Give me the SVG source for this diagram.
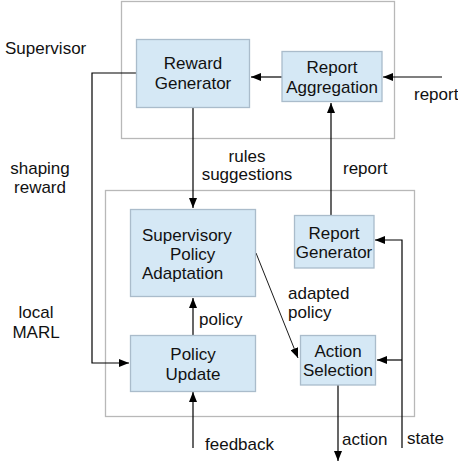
<svg xmlns="http://www.w3.org/2000/svg" width="458" height="466" viewBox="0 0 458 466">
<defs>
<marker id="ah" viewBox="0 0 10 8" refX="10" refY="4" markerWidth="10" markerHeight="8" markerUnits="userSpaceOnUse" orient="auto">
<path d="M0,0 L10,4 L0,8 Z" fill="#000"/>
</marker>
<style>
.cont{fill:#fff;stroke:#b8b8b8;stroke-width:1.3}
.box{fill:#d5e8f5;stroke:#aabccb;stroke-width:1.3}
.t{font-family:"Liberation Sans",Arial,sans-serif;font-size:17px;fill:#111}
.c{text-anchor:middle}
.ln{fill:none;stroke:#000;stroke-width:1.2}
</style>
</defs>
<rect width="458" height="466" fill="#fff"/>
<g id="supervisor-container"><rect class="cont" x="121.5" y="1.5" width="273" height="137"/></g>
<g id="marl-container"><rect class="cont" x="105.5" y="190.5" width="309" height="226"/></g>

<g id="connectors">
<line class="ln" x1="282" y1="77" x2="251" y2="77" marker-end="url(#ah)"/>
<line class="ln" x1="442" y1="77" x2="383" y2="77" marker-end="url(#ah)"/>
<polyline class="ln" points="136,73 92,73 92,363 129,363" marker-end="url(#ah)"/>
<line class="ln" x1="193" y1="108" x2="193" y2="208" marker-end="url(#ah)"/>
<line class="ln" x1="331" y1="215" x2="331" y2="103" marker-end="url(#ah)"/>
<line class="ln" x1="193" y1="335" x2="193" y2="298" marker-end="url(#ah)"/>
<line class="ln" x1="193" y1="448" x2="193" y2="392" marker-end="url(#ah)"/>
<line class="ln" x1="256" y1="253" x2="298" y2="358" marker-end="url(#ah)" style="stroke-width:0.9"/>
<polyline class="ln" points="402,448 402,240 375,240" marker-end="url(#ah)"/>
<line class="ln" x1="402" y1="360" x2="377" y2="360" marker-end="url(#ah)"/>
<line class="ln" x1="338" y1="385" x2="338" y2="461" marker-end="url(#ah)"/>
</g>

<g id="reward-generator"><rect class="box" x="136.5" y="39.5" width="113" height="68"/>
<text class="t c" x="193" y="69">Reward</text><text class="t c" x="193" y="89">Generator</text></g>
<g id="report-aggregation"><rect class="box" x="282" y="51.5" width="100" height="50"/>
<text class="t c" x="332" y="73">Report</text><text class="t c" x="332" y="93">Aggregation</text></g>
<g id="supervisory-policy-adaptation"><rect class="box" x="130.5" y="209.5" width="125" height="87"/>
<text class="t" x="142" y="241">Supervisory</text><text class="t" x="170" y="260">Policy</text><text class="t" x="142" y="279">Adaptation</text></g>
<g id="report-generator"><rect class="box" x="294.5" y="215.5" width="79.5" height="52.5"/>
<text class="t c" x="334" y="239">Report</text><text class="t c" x="334" y="258">Generator</text></g>
<g id="policy-update"><rect class="box" x="130.5" y="335.5" width="125" height="56"/>
<text class="t c" x="193" y="360">Policy</text><text class="t c" x="193" y="380">Update</text></g>
<g id="action-selection"><rect class="box" x="300.5" y="335.5" width="75" height="49.5"/>
<text class="t c" x="338" y="357">Action</text><text class="t c" x="338" y="376">Selection</text></g>

<g id="labels">
<text class="t" x="5" y="54">Supervisor</text>
<text class="t" x="414" y="100">report</text>
<text class="t c" x="40" y="174">shaping</text><text class="t c" x="40" y="193">reward</text>
<text class="t c" x="247" y="162">rules</text><text class="t c" x="247" y="180">suggestions</text>
<text class="t" x="343" y="174">report</text>
<text class="t c" x="36" y="318">local</text><text class="t c" x="36" y="338">MARL</text>
<text class="t" x="199" y="325">policy</text>
<text class="t" x="288" y="299">adapted</text><text class="t" x="288" y="318">policy</text>
<text class="t" x="205" y="450">feedback</text>
<text class="t" x="342" y="445">action</text>
<text class="t" x="407" y="444">state</text>
</g>
</svg>
